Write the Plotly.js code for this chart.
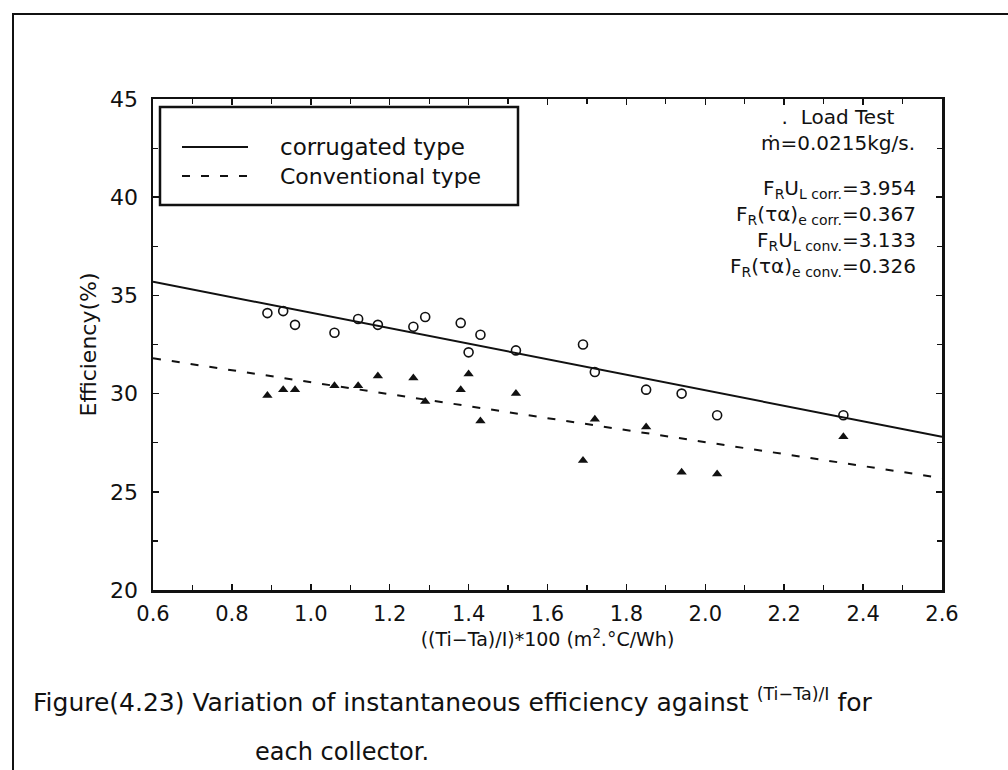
<!DOCTYPE html>
<html><head><meta charset="utf-8">
<script src="https://cdn.plot.ly/plotly-3.0.1.min.js"></script>
<style>html,body{margin:0;padding:0;background:#fff}</style>
</head><body><div id="chart" style="width:1008px;height:770px"></div>
<script>
// ---- data ----
const xValues = [0.89, 0.93, 0.96, 1.06, 1.12, 1.17, 1.26, 1.29, 1.38, 1.40, 1.43, 1.52, 1.69, 1.72, 1.85, 1.94, 2.03, 2.35];
const corrugatedEff = [34.1, 34.2, 33.5, 33.1, 33.8, 33.5, 33.4, 33.9, 33.6, 32.1, 33.0, 32.2, 32.5, 31.1, 30.2, 30.0, 28.9, 28.9];
const conventionalEff = [29.9, 30.2, 30.2, 30.4, 30.4, 30.9, 30.8, 29.6, 30.2, 31.0, 28.6, 30.0, 26.6, 28.7, 28.3, 26.0, 25.9, 27.8];
const fitX = [0.6, 2.6];
const corrugatedFit = [35.7, 27.8];
const conventionalFit = [31.8, 25.7];
const seriesNames = ["corrugated type", "Conventional type"];
const xTickVals = [0.6, 0.8, 1.0, 1.2, 1.4, 1.6, 1.8, 2.0, 2.2, 2.4, 2.6];
const xTickText = ["0.6", "0.8", "1.0", "1.2", "1.4", "1.6", "1.8", "2.0", "2.2", "2.4", "2.6"];
const yTickVals = [20, 25, 30, 35, 40, 45];
const testNotes = [".\u00a0\u00a0Load Test", "\u1e41=0.0215kg/s."];
const paramNotes = [
  "F<sub>R</sub>U<sub>L corr.</sub>=3.954",
  "F<sub>R</sub>(\u03c4\u03b1)<sub>e corr.</sub>=0.367",
  "F<sub>R</sub>U<sub>L conv.</sub>=3.133",
  "F<sub>R</sub>(\u03c4\u03b1)<sub>e conv.</sub>=0.326"
];
const captionLine1 = "Figure(4.23) Variation of instantaneous efficiency against <sup>(Ti\u2212Ta)/I</sup> for";
const captionLine2 = "each collector.";

// ---- layout helpers (pixel -> paper) ----
const L = 153, R = 942, T = 99, B = 590;
const px = v => (v - L) / (R - L);
const py = v => (B - v) / (B - T);
const FONT = "DejaVu Sans";
const INK = "#111";

const traces = [
  {x: fitX, y: corrugatedFit, mode: "lines", line: {color: INK, width: 2}, name: seriesNames[0], hoverinfo: "skip"},
  {x: fitX, y: conventionalFit, mode: "lines", line: {color: INK, width: 2, dash: "8px,11px"}, name: seriesNames[1], hoverinfo: "skip"},
  {x: xValues, y: corrugatedEff, mode: "markers", marker: {symbol: "circle-open", size: 9, color: INK, line: {width: 1.6, color: INK}}, name: seriesNames[0]},
  {x: xValues, y: conventionalEff, mode: "markers", marker: {symbol: "triangle-up", size: 9, color: INK}, name: seriesNames[1]}
];

const annotations = [
  {text: testNotes.join("<br>"), xref: "paper", yref: "paper", x: px(838), y: py(130), xanchor: "center", yanchor: "middle", align: "center", showarrow: false, font: {family: FONT, size: 20, color: INK}},
  {text: paramNotes.join("<br>"), xref: "paper", yref: "paper", x: px(918), y: py(228), xanchor: "right", yanchor: "middle", align: "right", showarrow: false, font: {family: FONT, size: 20, color: INK}},
  // legend texts
  {text: seriesNames[0], xref: "paper", yref: "paper", x: px(278), y: py(147), xanchor: "left", yanchor: "middle", showarrow: false, font: {family: FONT, size: 23, color: INK}},
  {text: seriesNames[1], xref: "paper", yref: "paper", x: px(278), y: py(176), xanchor: "left", yanchor: "middle", showarrow: false, font: {family: FONT, size: 22, color: INK}},
  // caption
  {text: captionLine1, xref: "paper", yref: "paper", x: px(31), y: py(700), xanchor: "left", yanchor: "middle", showarrow: false, font: {family: FONT, size: 25, color: INK}},
  {text: captionLine2, xref: "paper", yref: "paper", x: px(253), y: py(752), xanchor: "left", yanchor: "middle", showarrow: false, font: {family: FONT, size: 24, color: INK}}
];

const shapes = [
  // page border
  {type: "rect", xref: "paper", yref: "paper", x0: px(13), x1: px(1030), y0: py(800), y1: py(14), line: {color: INK, width: 2}},
  // legend box
  {type: "rect", xref: "paper", yref: "paper", x0: px(160), x1: px(518), y0: py(205), y1: py(107), line: {color: INK, width: 2.5}, fillcolor: "#fff", layer: "above"},
  {type: "line", xref: "paper", yref: "paper", x0: px(182), x1: px(248), y0: py(147), y1: py(147), line: {color: INK, width: 2}},
  {type: "line", xref: "paper", yref: "paper", x0: px(182), x1: px(248), y0: py(176), y1: py(176), line: {color: INK, width: 2, dash: "8px,11px"}}
];

const layout = {
  width: 1008, height: 770,
  margin: {l: L, r: 1008 - R, t: T, b: 770 - B},
  paper_bgcolor: "#fff", plot_bgcolor: "#fff",
  showlegend: false,
  font: {family: FONT, color: INK},
  xaxis: {
    range: [0.6, 2.6], tickvals: xTickVals, ticktext: xTickText,
    ticks: "inside", ticklen: 6, tickwidth: 1.5, tickcolor: INK,
    minor: {dtick: 0.1, ticks: "inside", ticklen: 5, tickwidth: 1.2, tickcolor: INK},
    showline: true, linewidth: 2.5, linecolor: INK, mirror: "ticks",
    showgrid: false, zeroline: false,
    tickfont: {family: FONT, size: 21, color: INK}, ticklabelstandoff: 3,
    title: {text: "((Ti\u2212Ta)/I)*100 (m<sup>2</sup>.\u00b0C/Wh)", font: {family: FONT, size: 19, color: INK}, standoff: 8}
  },
  yaxis: {
    range: [20, 45], tickvals: yTickVals,
    ticks: "inside", ticklen: 6, tickwidth: 1.5, tickcolor: INK,
    minor: {dtick: 2.5, ticks: "inside", ticklen: 5, tickwidth: 1.2, tickcolor: INK},
    showline: true, linewidth: 2.5, linecolor: INK, mirror: "ticks",
    showgrid: false, zeroline: false,
    tickfont: {family: FONT, size: 22, color: INK}, ticklabelstandoff: 8,
    title: {text: "Efficiency(%)", font: {family: FONT, size: 22, color: INK}, standoff: 8}
  },
  annotations: annotations,
  shapes: shapes
};

Plotly.newPlot("chart", traces, layout, {displayModeBar: false, staticPlot: true});
</script></body></html>
